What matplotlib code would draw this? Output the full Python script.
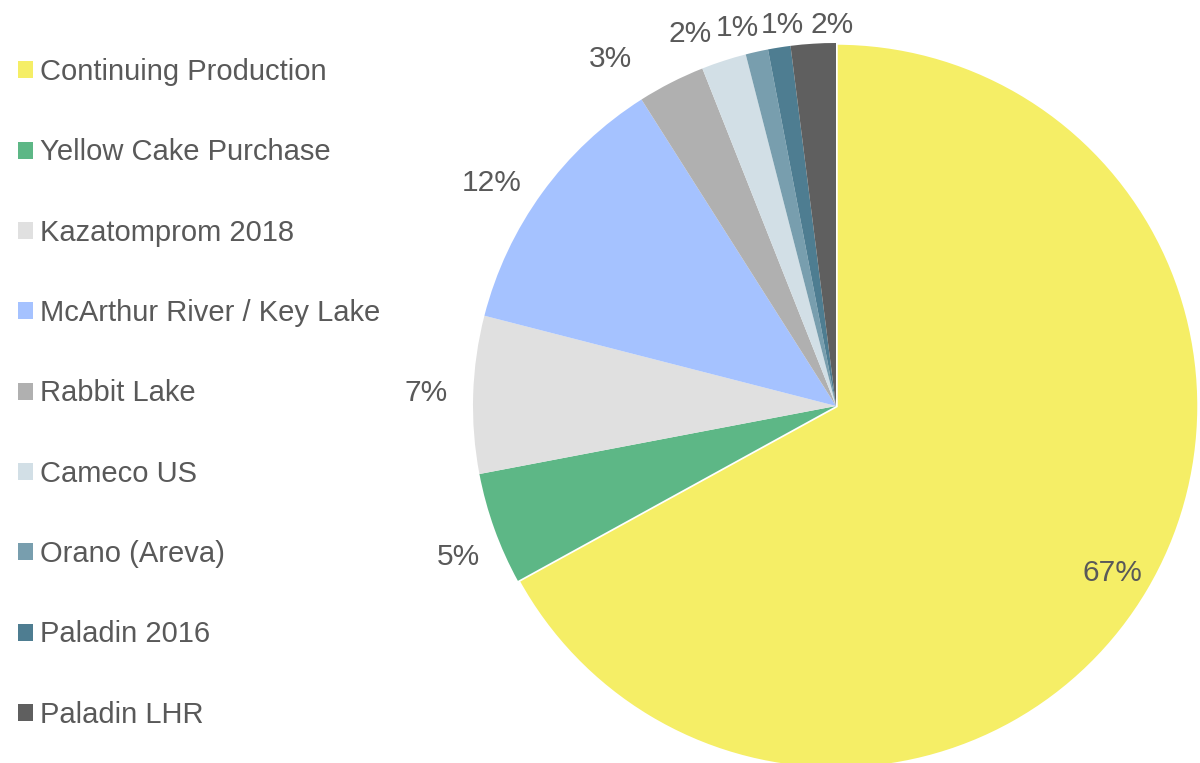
import numpy as np
import matplotlib.pyplot as plt

plt.rcParams['font.family'] = ['Liberation Sans', 'DejaVu Sans']

sources = ['Continuing Production', 'Yellow Cake Purchase', 'Kazatomprom 2018',
           'McArthur River / Key Lake', 'Rabbit Lake', 'Cameco US',
           'Orano (Areva)', 'Paladin 2016', 'Paladin LHR']
shares = [67, 5, 7, 12, 3, 2, 1, 1, 2]
colors = ['#F5EE66', '#5DB786', '#E0E0E0', '#A5C2FF', '#B0B0B0',
          '#D2DFE6', '#789EAE', '#4E7D91', '#5F5F5F']

text_col = '#595959'

fig = plt.figure(figsize=(12, 7.63), dpi=100)
ax = fig.add_axes([0, 0, 1, 1])

R = 363
cx, cy = 836, 763 - 406
wedges, _ = ax.pie(shares, colors=colors, startangle=90, counterclock=False,
                   center=(cx, cy), radius=R,
                   wedgeprops=dict(linewidth=0))

# legend first so the handles don't pick up the white edge
ax.legend(wedges, sources, loc='upper left', bbox_to_anchor=(18, 763 - 58),
          bbox_transform=ax.transData, frameon=False, fontsize=21,
          labelcolor=text_col, handlelength=0.52, handleheight=0.52,
          handletextpad=0.24, labelspacing=1.795, borderpad=0, borderaxespad=0)

wedges[0].set_edgecolor('white')
wedges[0].set_linewidth(2.5)

# label placement: (angle shift in deg, radius factor) per slice
label_adj = [(-0.5, 0.89), (2, 1.12), (0, 1.13), (3, 1.13), (6, 1.14),
             (3.5, 1.10), (2, 1.075), (-1, 1.06), (-3, 1.05)]
for w, s, (da, rf) in zip(wedges, shares, label_adj):
    mid = np.deg2rad((w.theta1 + w.theta2) / 2 + da)
    ax.text(cx + rf * R * np.cos(mid), cy + rf * R * np.sin(mid), f'{s}%',
            ha='center', va='center', fontsize=21.5, color=text_col)

ax.set_xlim(0, 1200)
ax.set_ylim(0, 763)
ax.set_aspect('equal')
ax.axis('off')

fig.savefig('out.png', dpi=100)
